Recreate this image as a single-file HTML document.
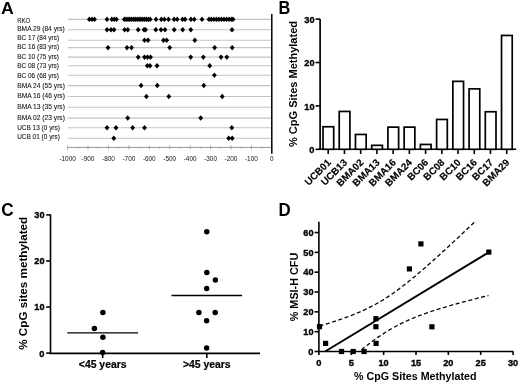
<!DOCTYPE html>
<html><head><meta charset="utf-8"><style>
html,body{margin:0;padding:0;background:#fff;width:520px;height:385px;overflow:hidden;}
svg{display:block;will-change:transform;}
</style></head><body>
<svg width="520" height="385" viewBox="0 0 520 385">
<rect width="520" height="385" fill="#fff"/>
<g font-family="Liberation Sans, sans-serif">
<text x="0.9" y="14.2" font-size="15.6" font-weight="bold" fill="#000" textLength="12.8" lengthAdjust="spacingAndGlyphs">A</text>
<line x1="67.8" y1="19.4" x2="271" y2="19.4" stroke="#c4c4c4" stroke-width="1.1"/>
<line x1="67.8" y1="29.8" x2="271" y2="29.8" stroke="#c4c4c4" stroke-width="1.1"/>
<line x1="67.8" y1="40.2" x2="271" y2="40.2" stroke="#c4c4c4" stroke-width="1.1"/>
<line x1="67.8" y1="47.6" x2="271" y2="47.6" stroke="#c4c4c4" stroke-width="1.1"/>
<line x1="67.8" y1="57.1" x2="271" y2="57.1" stroke="#c4c4c4" stroke-width="1.1"/>
<line x1="67.8" y1="65.8" x2="271" y2="65.8" stroke="#c4c4c4" stroke-width="1.1"/>
<line x1="67.8" y1="75.2" x2="271" y2="75.2" stroke="#c4c4c4" stroke-width="1.1"/>
<line x1="67.8" y1="85.6" x2="271" y2="85.6" stroke="#c4c4c4" stroke-width="1.1"/>
<line x1="67.8" y1="96.5" x2="271" y2="96.5" stroke="#c4c4c4" stroke-width="1.1"/>
<line x1="67.8" y1="107.2" x2="271" y2="107.2" stroke="#c4c4c4" stroke-width="1.1"/>
<line x1="67.8" y1="118.1" x2="271" y2="118.1" stroke="#c4c4c4" stroke-width="1.1"/>
<line x1="67.8" y1="127.8" x2="271" y2="127.8" stroke="#c4c4c4" stroke-width="1.1"/>
<line x1="67.8" y1="138.3" x2="271" y2="138.3" stroke="#c4c4c4" stroke-width="1.1"/>
<text x="17.2" y="22.60" font-size="8.0" fill="#1a1a1a" stroke="#1a1a1a" stroke-width="0.12" textLength="13.0" lengthAdjust="spacingAndGlyphs">RKO</text>
<text x="17.2" y="31.35" font-size="8.0" fill="#1a1a1a" stroke="#1a1a1a" stroke-width="0.12" textLength="47.5" lengthAdjust="spacingAndGlyphs">BMA 29 (84 yrs)</text>
<text x="17.2" y="40.30" font-size="8.0" fill="#1a1a1a" stroke="#1a1a1a" stroke-width="0.12" textLength="41.9" lengthAdjust="spacingAndGlyphs">BC 17 (84 yrs)</text>
<text x="17.2" y="48.80" font-size="8.0" fill="#1a1a1a" stroke="#1a1a1a" stroke-width="0.12" textLength="41.9" lengthAdjust="spacingAndGlyphs">BC 16 (83 yrs)</text>
<text x="17.2" y="58.50" font-size="8.0" fill="#1a1a1a" stroke="#1a1a1a" stroke-width="0.12" textLength="41.8" lengthAdjust="spacingAndGlyphs">BC 10 (75 yrs)</text>
<text x="17.2" y="67.80" font-size="8.0" fill="#1a1a1a" stroke="#1a1a1a" stroke-width="0.12" textLength="41.8" lengthAdjust="spacingAndGlyphs">BC 08 (73 yrs)</text>
<text x="17.2" y="78.00" font-size="8.0" fill="#1a1a1a" stroke="#1a1a1a" stroke-width="0.12" textLength="41.8" lengthAdjust="spacingAndGlyphs">BC 06 (68 yrs)</text>
<text x="17.2" y="87.70" font-size="8.0" fill="#1a1a1a" stroke="#1a1a1a" stroke-width="0.12" textLength="47.7" lengthAdjust="spacingAndGlyphs">BMA 24 (55 yrs)</text>
<text x="17.2" y="98.00" font-size="8.0" fill="#1a1a1a" stroke="#1a1a1a" stroke-width="0.12" textLength="47.7" lengthAdjust="spacingAndGlyphs">BMA 16 (46 yrs)</text>
<text x="17.2" y="109.30" font-size="8.0" fill="#1a1a1a" stroke="#1a1a1a" stroke-width="0.12" textLength="47.7" lengthAdjust="spacingAndGlyphs">BMA 13 (35 yrs)</text>
<text x="17.2" y="119.70" font-size="8.0" fill="#1a1a1a" stroke="#1a1a1a" stroke-width="0.12" textLength="47.7" lengthAdjust="spacingAndGlyphs">BMA 02 (23 yrs)</text>
<text x="17.2" y="130.00" font-size="8.0" fill="#1a1a1a" stroke="#1a1a1a" stroke-width="0.12" textLength="42.7" lengthAdjust="spacingAndGlyphs">UCB 13 (0 yrs)</text>
<text x="17.2" y="139.40" font-size="8.0" fill="#1a1a1a" stroke="#1a1a1a" stroke-width="0.12" textLength="42.7" lengthAdjust="spacingAndGlyphs">UCB 01 (0 yrs)</text>
<path d="M89.3 16.6L91.7 19.4L89.3 22.1L86.9 19.4Z" fill="#000"/>
<path d="M92.0 16.6L94.4 19.4L92.0 22.1L89.6 19.4Z" fill="#000"/>
<path d="M94.5 16.6L96.9 19.4L94.5 22.1L92.1 19.4Z" fill="#000"/>
<path d="M107.0 16.6L109.4 19.4L107.0 22.1L104.6 19.4Z" fill="#000"/>
<path d="M111.8 16.6L114.2 19.4L111.8 22.1L109.4 19.4Z" fill="#000"/>
<path d="M114.2 16.6L116.6 19.4L114.2 22.1L111.8 19.4Z" fill="#000"/>
<path d="M116.5 16.6L118.9 19.4L116.5 22.1L114.1 19.4Z" fill="#000"/>
<path d="M124.3 16.6L126.7 19.4L124.3 22.1L121.9 19.4Z" fill="#000"/>
<path d="M126.1 16.6L128.5 19.4L126.1 22.1L123.7 19.4Z" fill="#000"/>
<path d="M128.0 16.6L130.4 19.4L128.0 22.1L125.6 19.4Z" fill="#000"/>
<path d="M129.8 16.6L132.2 19.4L129.8 22.1L127.4 19.4Z" fill="#000"/>
<path d="M131.7 16.6L134.1 19.4L131.7 22.1L129.3 19.4Z" fill="#000"/>
<path d="M133.6 16.6L136.0 19.4L133.6 22.1L131.2 19.4Z" fill="#000"/>
<path d="M135.4 16.6L137.8 19.4L135.4 22.1L133.0 19.4Z" fill="#000"/>
<path d="M137.2 16.6L139.7 19.4L137.2 22.1L134.8 19.4Z" fill="#000"/>
<path d="M139.1 16.6L141.5 19.4L139.1 22.1L136.7 19.4Z" fill="#000"/>
<path d="M140.9 16.6L143.3 19.4L140.9 22.1L138.5 19.4Z" fill="#000"/>
<path d="M142.8 16.6L145.2 19.4L142.8 22.1L140.4 19.4Z" fill="#000"/>
<path d="M144.7 16.6L147.1 19.4L144.7 22.1L142.2 19.4Z" fill="#000"/>
<path d="M146.5 16.6L148.9 19.4L146.5 22.1L144.1 19.4Z" fill="#000"/>
<path d="M148.3 16.6L150.8 19.4L148.3 22.1L145.9 19.4Z" fill="#000"/>
<path d="M150.2 16.6L152.6 19.4L150.2 22.1L147.8 19.4Z" fill="#000"/>
<path d="M156.0 16.6L158.4 19.4L156.0 22.1L153.6 19.4Z" fill="#000"/>
<path d="M161.3 16.6L163.7 19.4L161.3 22.1L158.9 19.4Z" fill="#000"/>
<path d="M164.4 16.6L166.8 19.4L164.4 22.1L162.0 19.4Z" fill="#000"/>
<path d="M168.5 16.6L170.9 19.4L168.5 22.1L166.1 19.4Z" fill="#000"/>
<path d="M174.1 16.6L176.5 19.4L174.1 22.1L171.7 19.4Z" fill="#000"/>
<path d="M177.2 16.6L179.6 19.4L177.2 22.1L174.8 19.4Z" fill="#000"/>
<path d="M182.5 16.6L184.9 19.4L182.5 22.1L180.1 19.4Z" fill="#000"/>
<path d="M185.1 16.6L187.5 19.4L185.1 22.1L182.7 19.4Z" fill="#000"/>
<path d="M190.9 16.6L193.3 19.4L190.9 22.1L188.5 19.4Z" fill="#000"/>
<path d="M194.3 16.6L196.7 19.4L194.3 22.1L191.9 19.4Z" fill="#000"/>
<path d="M202.0 16.6L204.4 19.4L202.0 22.1L199.6 19.4Z" fill="#000"/>
<path d="M209.0 16.6L211.4 19.4L209.0 22.1L206.6 19.4Z" fill="#000"/>
<path d="M211.3 16.6L213.7 19.4L211.3 22.1L208.9 19.4Z" fill="#000"/>
<path d="M214.0 16.6L216.4 19.4L214.0 22.1L211.6 19.4Z" fill="#000"/>
<path d="M216.5 16.6L218.9 19.4L216.5 22.1L214.1 19.4Z" fill="#000"/>
<path d="M219.0 16.6L221.4 19.4L219.0 22.1L216.6 19.4Z" fill="#000"/>
<path d="M221.5 16.6L223.9 19.4L221.5 22.1L219.1 19.4Z" fill="#000"/>
<path d="M224.0 16.6L226.4 19.4L224.0 22.1L221.6 19.4Z" fill="#000"/>
<path d="M226.5 16.6L228.9 19.4L226.5 22.1L224.1 19.4Z" fill="#000"/>
<path d="M229.0 16.6L231.4 19.4L229.0 22.1L226.6 19.4Z" fill="#000"/>
<path d="M231.5 16.6L233.9 19.4L231.5 22.1L229.1 19.4Z" fill="#000"/>
<path d="M233.0 16.6L235.4 19.4L233.0 22.1L230.6 19.4Z" fill="#000"/>
<path d="M107.0 27.1L109.4 29.8L107.0 32.5L104.6 29.8Z" fill="#000"/>
<path d="M111.0 27.1L113.4 29.8L111.0 32.5L108.6 29.8Z" fill="#000"/>
<path d="M114.0 27.1L116.4 29.8L114.0 32.5L111.6 29.8Z" fill="#000"/>
<path d="M124.6 27.1L127.0 29.8L124.6 32.5L122.2 29.8Z" fill="#000"/>
<path d="M127.8 27.1L130.2 29.8L127.8 32.5L125.4 29.8Z" fill="#000"/>
<path d="M138.2 27.1L140.6 29.8L138.2 32.5L135.8 29.8Z" fill="#000"/>
<path d="M144.0 27.1L146.4 29.8L144.0 32.5L141.6 29.8Z" fill="#000"/>
<path d="M145.5 27.1L147.9 29.8L145.5 32.5L143.1 29.8Z" fill="#000"/>
<path d="M155.8 27.1L158.2 29.8L155.8 32.5L153.4 29.8Z" fill="#000"/>
<path d="M161.0 27.1L163.4 29.8L161.0 32.5L158.6 29.8Z" fill="#000"/>
<path d="M165.0 27.1L167.4 29.8L165.0 32.5L162.6 29.8Z" fill="#000"/>
<path d="M174.2 27.1L176.6 29.8L174.2 32.5L171.8 29.8Z" fill="#000"/>
<path d="M182.7 27.1L185.1 29.8L182.7 32.5L180.3 29.8Z" fill="#000"/>
<path d="M190.8 27.1L193.2 29.8L190.8 32.5L188.4 29.8Z" fill="#000"/>
<path d="M232.0 27.1L234.4 29.8L232.0 32.5L229.6 29.8Z" fill="#000"/>
<path d="M144.5 37.5L146.9 40.2L144.5 43.0L142.1 40.2Z" fill="#000"/>
<path d="M148.0 37.5L150.4 40.2L148.0 43.0L145.6 40.2Z" fill="#000"/>
<path d="M163.5 37.5L165.9 40.2L163.5 43.0L161.1 40.2Z" fill="#000"/>
<path d="M166.7 37.5L169.1 40.2L166.7 43.0L164.3 40.2Z" fill="#000"/>
<path d="M194.8 37.5L197.2 40.2L194.8 43.0L192.4 40.2Z" fill="#000"/>
<path d="M108.0 44.9L110.4 47.6L108.0 50.4L105.6 47.6Z" fill="#000"/>
<path d="M127.0 44.9L129.4 47.6L127.0 50.4L124.6 47.6Z" fill="#000"/>
<path d="M131.5 44.9L133.9 47.6L131.5 50.4L129.1 47.6Z" fill="#000"/>
<path d="M169.7 44.9L172.1 47.6L169.7 50.4L167.3 47.6Z" fill="#000"/>
<path d="M214.6 44.9L217.0 47.6L214.6 50.4L212.2 47.6Z" fill="#000"/>
<path d="M232.2 44.9L234.6 47.6L232.2 50.4L229.8 47.6Z" fill="#000"/>
<path d="M138.2 54.4L140.6 57.1L138.2 59.9L135.8 57.1Z" fill="#000"/>
<path d="M144.5 54.4L146.9 57.1L144.5 59.9L142.1 57.1Z" fill="#000"/>
<path d="M147.5 54.4L149.9 57.1L147.5 59.9L145.1 57.1Z" fill="#000"/>
<path d="M150.5 54.4L152.9 57.1L150.5 59.9L148.1 57.1Z" fill="#000"/>
<path d="M190.7 54.4L193.1 57.1L190.7 59.9L188.3 57.1Z" fill="#000"/>
<path d="M203.3 54.4L205.7 57.1L203.3 59.9L200.9 57.1Z" fill="#000"/>
<path d="M221.0 54.4L223.4 57.1L221.0 59.9L218.6 57.1Z" fill="#000"/>
<path d="M226.8 54.4L229.2 57.1L226.8 59.9L224.4 57.1Z" fill="#000"/>
<path d="M147.3 63.0L149.7 65.8L147.3 68.5L144.9 65.8Z" fill="#000"/>
<path d="M150.0 63.0L152.4 65.8L150.0 68.5L147.6 65.8Z" fill="#000"/>
<path d="M157.0 63.0L159.4 65.8L157.0 68.5L154.6 65.8Z" fill="#000"/>
<path d="M209.7 63.0L212.1 65.8L209.7 68.5L207.3 65.8Z" fill="#000"/>
<path d="M214.4 72.5L216.8 75.2L214.4 78.0L212.0 75.2Z" fill="#000"/>
<path d="M141.1 82.8L143.5 85.6L141.1 88.3L138.7 85.6Z" fill="#000"/>
<path d="M157.3 82.8L159.7 85.6L157.3 88.3L154.9 85.6Z" fill="#000"/>
<path d="M203.8 82.8L206.2 85.6L203.8 88.3L201.4 85.6Z" fill="#000"/>
<path d="M146.4 93.8L148.8 96.5L146.4 99.2L144.0 96.5Z" fill="#000"/>
<path d="M168.8 93.8L171.2 96.5L168.8 99.2L166.4 96.5Z" fill="#000"/>
<path d="M222.2 93.8L224.6 96.5L222.2 99.2L219.8 96.5Z" fill="#000"/>
<path d="M127.7 115.3L130.1 118.1L127.7 120.8L125.3 118.1Z" fill="#000"/>
<path d="M200.7 115.3L203.1 118.1L200.7 120.8L198.3 118.1Z" fill="#000"/>
<path d="M107.0 125.0L109.4 127.8L107.0 130.6L104.6 127.8Z" fill="#000"/>
<path d="M116.0 125.0L118.4 127.8L116.0 130.6L113.6 127.8Z" fill="#000"/>
<path d="M132.6 125.0L135.0 127.8L132.6 130.6L130.2 127.8Z" fill="#000"/>
<path d="M144.5 125.0L146.9 127.8L144.5 130.6L142.1 127.8Z" fill="#000"/>
<path d="M231.8 125.0L234.2 127.8L231.8 130.6L229.4 127.8Z" fill="#000"/>
<path d="M113.8 135.6L116.2 138.3L113.8 141.1L111.4 138.3Z" fill="#000"/>
<path d="M228.7 135.6L231.1 138.3L228.7 141.1L226.3 138.3Z" fill="#000"/>
<path d="M232.2 135.6L234.6 138.3L232.2 141.1L229.8 138.3Z" fill="#000"/>
<line x1="67.4" y1="147.4" x2="271" y2="147.4" stroke="#888" stroke-width="0.9"/>
<line x1="67.60" y1="145.3" x2="67.60" y2="149.6" stroke="#999" stroke-width="0.8"/>
<text x="67.60" y="160.5" font-size="6.4" fill="#111" text-anchor="middle">-1000</text>
<line x1="88.02" y1="145.3" x2="88.02" y2="149.6" stroke="#999" stroke-width="0.8"/>
<text x="88.02" y="160.5" font-size="6.4" fill="#111" text-anchor="middle">-900</text>
<line x1="108.44" y1="145.3" x2="108.44" y2="149.6" stroke="#999" stroke-width="0.8"/>
<text x="108.44" y="160.5" font-size="6.4" fill="#111" text-anchor="middle">-800</text>
<line x1="128.86" y1="145.3" x2="128.86" y2="149.6" stroke="#999" stroke-width="0.8"/>
<text x="128.86" y="160.5" font-size="6.4" fill="#111" text-anchor="middle">-700</text>
<line x1="149.28" y1="145.3" x2="149.28" y2="149.6" stroke="#999" stroke-width="0.8"/>
<text x="149.28" y="160.5" font-size="6.4" fill="#111" text-anchor="middle">-600</text>
<line x1="169.70" y1="145.3" x2="169.70" y2="149.6" stroke="#999" stroke-width="0.8"/>
<text x="169.70" y="160.5" font-size="6.4" fill="#111" text-anchor="middle">-500</text>
<line x1="190.12" y1="145.3" x2="190.12" y2="149.6" stroke="#999" stroke-width="0.8"/>
<text x="190.12" y="160.5" font-size="6.4" fill="#111" text-anchor="middle">-400</text>
<line x1="210.54" y1="145.3" x2="210.54" y2="149.6" stroke="#999" stroke-width="0.8"/>
<text x="210.54" y="160.5" font-size="6.4" fill="#111" text-anchor="middle">-300</text>
<line x1="230.96" y1="145.3" x2="230.96" y2="149.6" stroke="#999" stroke-width="0.8"/>
<text x="230.96" y="160.5" font-size="6.4" fill="#111" text-anchor="middle">-200</text>
<line x1="251.38" y1="145.3" x2="251.38" y2="149.6" stroke="#999" stroke-width="0.8"/>
<text x="251.38" y="160.5" font-size="6.4" fill="#111" text-anchor="middle">-100</text>
<line x1="271.80" y1="145.3" x2="271.80" y2="149.6" stroke="#999" stroke-width="0.8"/>
<text x="271.80" y="160.5" font-size="6.4" fill="#111" text-anchor="middle">0</text>
<line x1="77.81" y1="146.8" x2="77.81" y2="149" stroke="#aaa" stroke-width="0.7"/>
<line x1="98.23" y1="146.8" x2="98.23" y2="149" stroke="#aaa" stroke-width="0.7"/>
<line x1="118.65" y1="146.8" x2="118.65" y2="149" stroke="#aaa" stroke-width="0.7"/>
<line x1="139.07" y1="146.8" x2="139.07" y2="149" stroke="#aaa" stroke-width="0.7"/>
<line x1="159.49" y1="146.8" x2="159.49" y2="149" stroke="#aaa" stroke-width="0.7"/>
<line x1="179.91" y1="146.8" x2="179.91" y2="149" stroke="#aaa" stroke-width="0.7"/>
<line x1="200.33" y1="146.8" x2="200.33" y2="149" stroke="#aaa" stroke-width="0.7"/>
<line x1="220.75" y1="146.8" x2="220.75" y2="149" stroke="#aaa" stroke-width="0.7"/>
<line x1="241.17" y1="146.8" x2="241.17" y2="149" stroke="#aaa" stroke-width="0.7"/>
<line x1="261.59" y1="146.8" x2="261.59" y2="149" stroke="#aaa" stroke-width="0.7"/>
<line x1="271.8" y1="13.9" x2="271.8" y2="153.8" stroke="#000" stroke-width="1.5"/>
<line x1="270.8" y1="163.6" x2="273" y2="163.6" stroke="#e2e2e2" stroke-width="0.8"/>
</g>
<g font-family="Liberation Sans, sans-serif" font-weight="bold" fill="#000">
<text x="278.4" y="13.7" font-size="17.5" textLength="11.8" lengthAdjust="spacingAndGlyphs">B</text>
<line x1="320.1" y1="19" x2="320.1" y2="150.10000000000002" stroke="#000" stroke-width="1.7"/>
<line x1="319.3" y1="149.3" x2="516.2" y2="149.3" stroke="#000" stroke-width="1.6"/>
<line x1="315.6" y1="149.30" x2="320.1" y2="149.30" stroke="#000" stroke-width="1.6"/>
<text x="314.5" y="153.10" font-size="9.8" stroke="#000" stroke-width="0.35" text-anchor="end" textLength="5.2" lengthAdjust="spacingAndGlyphs">0</text>
<line x1="315.6" y1="105.90" x2="320.1" y2="105.90" stroke="#000" stroke-width="1.6"/>
<text x="314.5" y="109.70" font-size="9.8" stroke="#000" stroke-width="0.35" text-anchor="end" textLength="10.2" lengthAdjust="spacingAndGlyphs">10</text>
<line x1="315.6" y1="62.50" x2="320.1" y2="62.50" stroke="#000" stroke-width="1.6"/>
<text x="314.5" y="66.30" font-size="9.8" stroke="#000" stroke-width="0.35" text-anchor="end" textLength="10.2" lengthAdjust="spacingAndGlyphs">20</text>
<line x1="315.6" y1="19.10" x2="320.1" y2="19.10" stroke="#000" stroke-width="1.6"/>
<text x="314.5" y="22.90" font-size="9.8" stroke="#000" stroke-width="0.35" text-anchor="end" textLength="10.2" lengthAdjust="spacingAndGlyphs">30</text>
<rect x="323.00" y="126.75" width="10.7" height="22.55" fill="#fff" stroke="#000" stroke-width="1.7"/>
<line x1="328.20" y1="149.3" x2="328.20" y2="154" stroke="#000" stroke-width="1.6"/>
<text transform="translate(331.60,163.2) rotate(-45)" font-size="9.9" stroke="#000" stroke-width="0.15" text-anchor="end">UCB01</text>
<rect x="339.23" y="111.45" width="10.7" height="37.85" fill="#fff" stroke="#000" stroke-width="1.7"/>
<line x1="344.43" y1="149.3" x2="344.43" y2="154" stroke="#000" stroke-width="1.6"/>
<text transform="translate(347.83,163.2) rotate(-45)" font-size="9.9" stroke="#000" stroke-width="0.15" text-anchor="end">UCB13</text>
<rect x="355.46" y="134.45" width="10.7" height="14.85" fill="#fff" stroke="#000" stroke-width="1.7"/>
<line x1="360.66" y1="149.3" x2="360.66" y2="154" stroke="#000" stroke-width="1.6"/>
<text transform="translate(364.06,163.2) rotate(-45)" font-size="9.9" stroke="#000" stroke-width="0.15" text-anchor="end">BMA02</text>
<rect x="371.69" y="145.35" width="10.7" height="3.95" fill="#fff" stroke="#000" stroke-width="1.7"/>
<line x1="376.89" y1="149.3" x2="376.89" y2="154" stroke="#000" stroke-width="1.6"/>
<text transform="translate(380.29,163.2) rotate(-45)" font-size="9.9" stroke="#000" stroke-width="0.15" text-anchor="end">BMA13</text>
<rect x="387.92" y="127.15" width="10.7" height="22.15" fill="#fff" stroke="#000" stroke-width="1.7"/>
<line x1="393.12" y1="149.3" x2="393.12" y2="154" stroke="#000" stroke-width="1.6"/>
<text transform="translate(396.52,163.2) rotate(-45)" font-size="9.9" stroke="#000" stroke-width="0.15" text-anchor="end">BMA16</text>
<rect x="404.15" y="127.15" width="10.7" height="22.15" fill="#fff" stroke="#000" stroke-width="1.7"/>
<line x1="409.35" y1="149.3" x2="409.35" y2="154" stroke="#000" stroke-width="1.6"/>
<text transform="translate(412.75,163.2) rotate(-45)" font-size="9.9" stroke="#000" stroke-width="0.15" text-anchor="end">BMA24</text>
<rect x="420.38" y="144.45" width="10.7" height="4.85" fill="#fff" stroke="#000" stroke-width="1.7"/>
<line x1="425.58" y1="149.3" x2="425.58" y2="154" stroke="#000" stroke-width="1.6"/>
<text transform="translate(428.98,163.2) rotate(-45)" font-size="9.9" stroke="#000" stroke-width="0.15" text-anchor="end">BC06</text>
<rect x="436.61" y="119.45" width="10.7" height="29.85" fill="#fff" stroke="#000" stroke-width="1.7"/>
<line x1="441.81" y1="149.3" x2="441.81" y2="154" stroke="#000" stroke-width="1.6"/>
<text transform="translate(445.21,163.2) rotate(-45)" font-size="9.9" stroke="#000" stroke-width="0.15" text-anchor="end">BC08</text>
<rect x="452.84" y="81.35" width="10.7" height="67.95" fill="#fff" stroke="#000" stroke-width="1.7"/>
<line x1="458.04" y1="149.3" x2="458.04" y2="154" stroke="#000" stroke-width="1.6"/>
<text transform="translate(461.44,163.2) rotate(-45)" font-size="9.9" stroke="#000" stroke-width="0.15" text-anchor="end">BC10</text>
<rect x="469.07" y="88.85" width="10.7" height="60.45" fill="#fff" stroke="#000" stroke-width="1.7"/>
<line x1="474.27" y1="149.3" x2="474.27" y2="154" stroke="#000" stroke-width="1.6"/>
<text transform="translate(477.67,163.2) rotate(-45)" font-size="9.9" stroke="#000" stroke-width="0.15" text-anchor="end">BC16</text>
<rect x="485.30" y="111.75" width="10.7" height="37.55" fill="#fff" stroke="#000" stroke-width="1.7"/>
<line x1="490.50" y1="149.3" x2="490.50" y2="154" stroke="#000" stroke-width="1.6"/>
<text transform="translate(493.90,163.2) rotate(-45)" font-size="9.9" stroke="#000" stroke-width="0.15" text-anchor="end">BC17</text>
<rect x="501.53" y="35.45" width="10.7" height="113.85" fill="#fff" stroke="#000" stroke-width="1.7"/>
<line x1="506.73" y1="149.3" x2="506.73" y2="154" stroke="#000" stroke-width="1.6"/>
<text transform="translate(510.13,163.2) rotate(-45)" font-size="9.9" stroke="#000" stroke-width="0.15" text-anchor="end">BMA29</text>
<text transform="translate(296.6,84.0) rotate(-90)" font-size="10" text-anchor="middle" textLength="126" lengthAdjust="spacingAndGlyphs">% CpG Sites Methylated</text>
</g>
<g font-family="Liberation Sans, sans-serif" font-weight="bold" fill="#000">
<text x="1.2" y="216.2" font-size="17.5" textLength="12.4" lengthAdjust="spacingAndGlyphs">C</text>
<line x1="50.5" y1="214.3" x2="50.5" y2="353.90000000000003" stroke="#000" stroke-width="1.6"/>
<line x1="49.7" y1="353.40000000000003" x2="260" y2="353.40000000000003" stroke="#000" stroke-width="1.7"/>
<line x1="46.2" y1="353.10" x2="50.5" y2="353.10" stroke="#000" stroke-width="1.6"/>
<text x="44.5" y="356.50" font-size="9.7" stroke="#000" stroke-width="0.35" text-anchor="end" textLength="5.2" lengthAdjust="spacingAndGlyphs">0</text>
<line x1="46.2" y1="307.03" x2="50.5" y2="307.03" stroke="#000" stroke-width="1.6"/>
<text x="44.5" y="310.43" font-size="9.7" stroke="#000" stroke-width="0.35" text-anchor="end" textLength="10.2" lengthAdjust="spacingAndGlyphs">10</text>
<line x1="46.2" y1="260.96" x2="50.5" y2="260.96" stroke="#000" stroke-width="1.6"/>
<text x="44.5" y="264.36" font-size="9.7" stroke="#000" stroke-width="0.35" text-anchor="end" textLength="10.2" lengthAdjust="spacingAndGlyphs">20</text>
<line x1="46.2" y1="214.89" x2="50.5" y2="214.89" stroke="#000" stroke-width="1.6"/>
<text x="44.5" y="218.29" font-size="9.7" stroke="#000" stroke-width="0.35" text-anchor="end" textLength="10.2" lengthAdjust="spacingAndGlyphs">30</text>
<line x1="102.7" y1="353.1" x2="102.7" y2="358" stroke="#000" stroke-width="1.6"/>
<text x="102.7" y="368.3" font-size="10.4" stroke="#000" stroke-width="0.2" text-anchor="middle">&lt;45 years</text>
<line x1="206.8" y1="353.1" x2="206.8" y2="358" stroke="#000" stroke-width="1.6"/>
<text x="206.8" y="368.3" font-size="10.4" stroke="#000" stroke-width="0.2" text-anchor="middle">&gt;45 years</text>
<circle cx="102.9" cy="312.5" r="2.75" fill="#000"/>
<circle cx="94.4" cy="328.6" r="2.75" fill="#000"/>
<circle cx="102.9" cy="337.3" r="2.75" fill="#000"/>
<circle cx="102.6" cy="352.6" r="2.75" fill="#000"/>
<circle cx="206.8" cy="231.8" r="2.75" fill="#000"/>
<circle cx="206.8" cy="272.4" r="2.75" fill="#000"/>
<circle cx="215.4" cy="280.0" r="2.75" fill="#000"/>
<circle cx="206.7" cy="288.4" r="2.75" fill="#000"/>
<circle cx="198.9" cy="312.6" r="2.75" fill="#000"/>
<circle cx="215.2" cy="312.6" r="2.75" fill="#000"/>
<circle cx="206.6" cy="320.7" r="2.75" fill="#000"/>
<circle cx="206.6" cy="348.0" r="2.75" fill="#000"/>
<line x1="67.3" y1="332.8" x2="138" y2="332.8" stroke="#000" stroke-width="1.3"/>
<line x1="171.5" y1="295.5" x2="242.1" y2="295.5" stroke="#000" stroke-width="1.3"/>
<text transform="translate(26.8,283.3) rotate(-90)" font-size="10" text-anchor="middle" textLength="133" lengthAdjust="spacingAndGlyphs">% CpG sites methylated</text>
</g>
<g font-family="Liberation Sans, sans-serif" font-weight="bold" fill="#000">
<text x="278.4" y="216.3" font-size="17.5" textLength="12.2" lengthAdjust="spacingAndGlyphs">D</text>
<line x1="318.9" y1="221.8" x2="318.9" y2="352.3" stroke="#000" stroke-width="1.6"/>
<line x1="318.09999999999997" y1="351.5" x2="513.3" y2="351.5" stroke="#000" stroke-width="1.6"/>
<line x1="314.6" y1="351.50" x2="318.9" y2="351.50" stroke="#000" stroke-width="1.6"/>
<text x="313.5" y="354.80" font-size="9.3" stroke="#000" stroke-width="0.35" text-anchor="end" textLength="5.2" lengthAdjust="spacingAndGlyphs">0</text>
<line x1="314.6" y1="331.67" x2="318.9" y2="331.67" stroke="#000" stroke-width="1.6"/>
<text x="313.5" y="334.97" font-size="9.3" stroke="#000" stroke-width="0.35" text-anchor="end" textLength="10.2" lengthAdjust="spacingAndGlyphs">10</text>
<line x1="314.6" y1="311.84" x2="318.9" y2="311.84" stroke="#000" stroke-width="1.6"/>
<text x="313.5" y="315.14" font-size="9.3" stroke="#000" stroke-width="0.35" text-anchor="end" textLength="10.2" lengthAdjust="spacingAndGlyphs">20</text>
<line x1="314.6" y1="292.01" x2="318.9" y2="292.01" stroke="#000" stroke-width="1.6"/>
<text x="313.5" y="295.31" font-size="9.3" stroke="#000" stroke-width="0.35" text-anchor="end" textLength="10.2" lengthAdjust="spacingAndGlyphs">30</text>
<line x1="314.6" y1="272.18" x2="318.9" y2="272.18" stroke="#000" stroke-width="1.6"/>
<text x="313.5" y="275.48" font-size="9.3" stroke="#000" stroke-width="0.35" text-anchor="end" textLength="10.2" lengthAdjust="spacingAndGlyphs">40</text>
<line x1="314.6" y1="252.35" x2="318.9" y2="252.35" stroke="#000" stroke-width="1.6"/>
<text x="313.5" y="255.65" font-size="9.3" stroke="#000" stroke-width="0.35" text-anchor="end" textLength="10.2" lengthAdjust="spacingAndGlyphs">50</text>
<line x1="314.6" y1="232.52" x2="318.9" y2="232.52" stroke="#000" stroke-width="1.6"/>
<text x="313.5" y="235.82" font-size="9.3" stroke="#000" stroke-width="0.35" text-anchor="end" textLength="10.2" lengthAdjust="spacingAndGlyphs">60</text>
<line x1="318.90" y1="351.5" x2="318.90" y2="355" stroke="#000" stroke-width="1.6"/>
<text x="318.90" y="365.6" font-size="9.2" stroke="#000" stroke-width="0.35" text-anchor="middle" textLength="5.2" lengthAdjust="spacingAndGlyphs">0</text>
<line x1="351.26" y1="351.5" x2="351.26" y2="355" stroke="#000" stroke-width="1.6"/>
<text x="351.26" y="365.6" font-size="9.2" stroke="#000" stroke-width="0.35" text-anchor="middle" textLength="5.2" lengthAdjust="spacingAndGlyphs">5</text>
<line x1="383.63" y1="351.5" x2="383.63" y2="355" stroke="#000" stroke-width="1.6"/>
<text x="383.63" y="365.6" font-size="9.2" stroke="#000" stroke-width="0.35" text-anchor="middle" textLength="10.2" lengthAdjust="spacingAndGlyphs">10</text>
<line x1="416.00" y1="351.5" x2="416.00" y2="355" stroke="#000" stroke-width="1.6"/>
<text x="416.00" y="365.6" font-size="9.2" stroke="#000" stroke-width="0.35" text-anchor="middle" textLength="10.2" lengthAdjust="spacingAndGlyphs">15</text>
<line x1="448.36" y1="351.5" x2="448.36" y2="355" stroke="#000" stroke-width="1.6"/>
<text x="448.36" y="365.6" font-size="9.2" stroke="#000" stroke-width="0.35" text-anchor="middle" textLength="10.2" lengthAdjust="spacingAndGlyphs">20</text>
<line x1="480.72" y1="351.5" x2="480.72" y2="355" stroke="#000" stroke-width="1.6"/>
<text x="480.72" y="365.6" font-size="9.2" stroke="#000" stroke-width="0.35" text-anchor="middle" textLength="10.2" lengthAdjust="spacingAndGlyphs">25</text>
<line x1="513.09" y1="351.5" x2="513.09" y2="355" stroke="#000" stroke-width="1.6"/>
<text x="513.09" y="365.6" font-size="9.2" stroke="#000" stroke-width="0.35" text-anchor="middle" textLength="10.2" lengthAdjust="spacingAndGlyphs">30</text>
<rect x="316.9" y="324.1" width="5.2" height="5.2" fill="#000"/>
<rect x="323.0" y="340.8" width="5.2" height="5.2" fill="#000"/>
<rect x="338.9" y="348.9" width="5.2" height="5.2" fill="#000"/>
<rect x="350.6" y="348.9" width="5.2" height="5.2" fill="#000"/>
<rect x="361.5" y="348.9" width="5.2" height="5.2" fill="#000"/>
<rect x="373.3" y="316.1" width="5.2" height="5.2" fill="#000"/>
<rect x="373.3" y="324.1" width="5.2" height="5.2" fill="#000"/>
<rect x="373.5" y="340.8" width="5.2" height="5.2" fill="#000"/>
<rect x="406.8" y="266.3" width="5.2" height="5.2" fill="#000"/>
<rect x="418.3" y="241.3" width="5.2" height="5.2" fill="#000"/>
<rect x="429.3" y="324.2" width="5.2" height="5.2" fill="#000"/>
<rect x="486.2" y="249.5" width="5.2" height="5.2" fill="#000"/>
<line x1="325.1" y1="351.5" x2="488.6" y2="252.4" stroke="#000" stroke-width="2"/>
<path d="M319.5 326.0 L320.5 325.7 L321.5 325.4 L322.5 325.1 L323.5 324.8 L324.5 324.5 L325.5 324.2 L326.5 323.9 L327.5 323.6 L328.5 323.3 L329.5 323.0 L330.5 322.7 L331.5 322.3 L332.5 322.0 L333.5 321.7 L334.5 321.4 L335.5 321.1 L336.5 320.7 L337.5 320.4 L338.5 320.1 L339.5 319.7 L340.5 319.4 L341.5 319.0 L342.5 318.7 L343.5 318.3 L344.5 318.0 L345.5 317.6 L346.5 317.2 L347.5 316.9 L348.5 316.5 L349.5 316.1 L350.5 315.8 L351.5 315.4 L352.5 315.0 L353.5 314.6 L354.5 314.2 L355.5 313.8 L356.5 313.4 L357.5 312.9 L358.5 312.5 L359.5 312.1 L360.5 311.7 L361.5 311.2 L362.5 310.8 L363.5 310.3 L364.5 309.9 L365.5 309.4 L366.5 308.9 L367.5 308.4 L368.5 307.9 L369.5 307.4 L370.5 306.9 L371.5 306.4 L372.5 305.9 L373.5 305.4 L374.5 304.8 L375.5 304.3 L376.5 303.7 L377.5 303.2 L378.5 302.6 L379.5 302.0 L380.5 301.4 L381.5 300.8 L382.5 300.2 L383.5 299.6 L384.5 299.0 L385.5 298.3 L386.5 297.7 L387.5 297.1 L388.5 296.4 L389.5 295.7 L390.5 295.1 L391.5 294.4 L392.5 293.7 L393.5 293.0 L394.5 292.3 L395.5 291.6 L396.5 290.8 L397.5 290.1 L398.5 289.4 L399.5 288.6 L400.5 287.9 L401.5 287.1 L402.5 286.3 L403.5 285.6 L404.5 284.8 L405.5 284.0 L406.5 283.2 L407.5 282.4 L408.5 281.6 L409.5 280.8 L410.5 280.0 L411.5 279.2 L412.5 278.4 L413.5 277.5 L414.5 276.7 L415.5 275.9 L416.5 275.0 L417.5 274.2 L418.5 273.3 L419.5 272.5 L420.5 271.6 L421.5 270.8 L422.5 269.9 L423.5 269.0 L424.5 268.2 L425.5 267.3 L426.5 266.4 L427.5 265.5 L428.5 264.6 L429.5 263.8 L430.5 262.9 L431.5 262.0 L432.5 261.1 L433.5 260.2 L434.5 259.3 L435.5 258.4 L436.5 257.5 L437.5 256.6 L438.5 255.7 L439.5 254.8 L440.5 253.9 L441.5 252.9 L442.5 252.0 L443.5 251.1 L444.5 250.2 L445.5 249.3 L446.5 248.4 L447.5 247.4 L448.5 246.5 L449.5 245.6 L450.5 244.7 L451.5 243.7 L452.5 242.8 L453.5 241.9 L454.5 240.9 L455.5 240.0 L456.5 239.1 L457.5 238.1 L458.5 237.2 L459.5 236.3 L460.5 235.3 L461.5 234.4 L462.5 233.4 L463.5 232.5 L464.5 231.6 L465.5 230.6 L466.5 229.7 L467.5 228.7 L468.5 227.8 L469.5 226.8 L470.5 225.9 L471.5 224.9 L472.5 224.0 L473.5 223.1 L474.5 222.1" fill="none" stroke="#000" stroke-width="1.3" stroke-dasharray="4 2.6"/>
<path d="M361.5 349.7 L362.5 348.9 L363.5 348.1 L364.5 347.3 L365.5 346.5 L366.5 345.7 L367.5 345.0 L368.5 344.2 L369.5 343.4 L370.5 342.7 L371.5 341.9 L372.5 341.2 L373.5 340.5 L374.5 339.8 L375.5 339.0 L376.5 338.3 L377.5 337.6 L378.5 336.9 L379.5 336.3 L380.5 335.6 L381.5 334.9 L382.5 334.3 L383.5 333.6 L384.5 333.0 L385.5 332.3 L386.5 331.7 L387.5 331.1 L388.5 330.5 L389.5 329.9 L390.5 329.3 L391.5 328.7 L392.5 328.2 L393.5 327.6 L394.5 327.0 L395.5 326.5 L396.5 326.0 L397.5 325.4 L398.5 324.9 L399.5 324.4 L400.5 323.9 L401.5 323.4 L402.5 322.9 L403.5 322.4 L404.5 321.9 L405.5 321.5 L406.5 321.0 L407.5 320.6 L408.5 320.1 L409.5 319.7 L410.5 319.3 L411.5 318.8 L412.5 318.4 L413.5 318.0 L414.5 317.6 L415.5 317.2 L416.5 316.8 L417.5 316.4 L418.5 316.0 L419.5 315.6 L420.5 315.2 L421.5 314.9 L422.5 314.5 L423.5 314.1 L424.5 313.8 L425.5 313.4 L426.5 313.1 L427.5 312.7 L428.5 312.4 L429.5 312.0 L430.5 311.7 L431.5 311.4 L432.5 311.0 L433.5 310.7 L434.5 310.4 L435.5 310.1 L436.5 309.7 L437.5 309.4 L438.5 309.1 L439.5 308.8 L440.5 308.5 L441.5 308.2 L442.5 307.9 L443.5 307.6 L444.5 307.3 L445.5 307.0 L446.5 306.7 L447.5 306.4 L448.5 306.1 L449.5 305.8 L450.5 305.5 L451.5 305.2 L452.5 304.9 L453.5 304.7 L454.5 304.4 L455.5 304.1 L456.5 303.8 L457.5 303.5 L458.5 303.3 L459.5 303.0 L460.5 302.7 L461.5 302.5 L462.5 302.2 L463.5 301.9 L464.5 301.6 L465.5 301.4 L466.5 301.1 L467.5 300.8 L468.5 300.6 L469.5 300.3 L470.5 300.1 L471.5 299.8 L472.5 299.5 L473.5 299.3 L474.5 299.0 L475.5 298.8 L476.5 298.5 L477.5 298.2 L478.5 298.0 L479.5 297.7 L480.5 297.5 L481.5 297.2 L482.5 297.0 L483.5 296.7 L484.5 296.5 L485.5 296.2 L486.5 296.0 L487.5 295.7 L488.5 295.5" fill="none" stroke="#000" stroke-width="1.3" stroke-dasharray="4 2.6"/>
<text transform="translate(297.9,287) rotate(-90)" font-size="10.8" text-anchor="middle" textLength="68.5" lengthAdjust="spacingAndGlyphs">% MSI-H CFU</text>
<text x="415.3" y="379.8" font-size="10.6" text-anchor="middle" textLength="122.5" lengthAdjust="spacingAndGlyphs">% CpG Sites Methylated</text>
</g>
</svg>
</body></html>
